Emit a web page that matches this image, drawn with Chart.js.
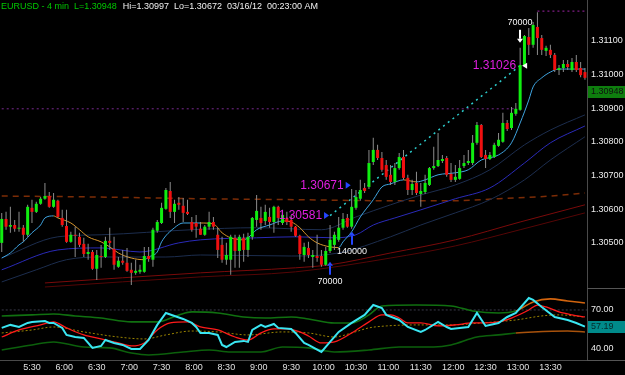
<!DOCTYPE html>
<html>
<head>
<meta charset="utf-8">
<script src="https://cdn.jsdelivr.net/npm/chart.js@4.4.1/dist/chart.umd.min.js"></script>
<style>
  html, body { margin: 0; padding: 0; background: #000; }
  #wrap { width: 625px; height: 375px; }
</style>
</head>
<body>
<div id="wrap"><canvas id="fxChart" width="625" height="375"></canvas></div>
<script>
// bar clock
const firstBar = '5:02';
const barMinutes = 4;
const timeTicks = ['5:30','6:00','6:30','7:00','7:30','8:00','8:30','9:00','9:30','10:00','10:30','11:00','11:30','12:00','12:30','13:00','13:30'];
const priceTicks = [1.305, 1.306, 1.307, 1.308, 1.309, 1.310, 1.311];
const oscTicks = [70, 40];

// candles, EURUSD 4 min
const openP = [
  1.30500,1.30571,1.30548,1.30553,1.30542,1.30545,1.30524,1.30604,1.30592,1.30616,
  1.30631,1.30639,1.30607,1.30625,1.30574,1.30550,1.30503,1.30524,1.30518,1.30497,
  1.30467,1.30473,1.30423,1.30461,1.30458,1.30506,1.30482,1.30429,1.30447,1.30441,
  1.30420,1.30411,1.30414,1.30414,1.30461,1.30450,1.30536,1.30559,1.30601,1.30654,
  1.30592,1.30619,1.30610,1.30592,1.30562,1.30559,1.30542,1.30524,1.30548,1.30562,
  1.30524,1.30494,1.30450,1.30450,1.30515,1.30476,1.30515,1.30479,1.30518,1.30568,
  1.30574,1.30565,1.30577,1.30562,1.30607,1.30559,1.30574,1.30568,1.30548,1.30521,
  1.30464,1.30485,1.30458,1.30461,1.30461,1.30435,1.30476,1.30494,1.30509,1.30545,
  1.30574,1.30548,1.30604,1.30631,1.30663,1.30666,1.30740,1.30776,1.30752,1.30731,
  1.30702,1.30681,1.30722,1.30755,1.30693,1.30657,1.30678,1.30645,1.30651,1.30672,
  1.30722,1.30728,1.30743,1.30752,1.30705,1.30687,1.30690,1.30728,1.30737,1.30737,
  1.30797,1.30850,1.30761,1.30749,1.30755,1.30788,1.30800,1.30856,1.30841,1.30883,
  1.30895,1.31028,1.31111,1.31088,1.31141,1.31108,1.31070,1.31073,1.31058,1.31013,
  1.31019,1.31031,1.31013,1.31037,1.31019,1.31007
];
const highP = [
  1.30589,1.30592,1.30607,1.30568,1.30592,1.30553,1.30613,1.30628,1.30622,1.30636,
  1.30678,1.30651,1.30648,1.30628,1.30598,1.30598,1.30533,1.30548,1.30530,1.30515,
  1.30497,1.30479,1.30479,1.30494,1.30518,1.30545,1.30518,1.30458,1.30479,1.30485,
  1.30441,1.30450,1.30435,1.30488,1.30488,1.30545,1.30568,1.30619,1.30663,1.30681,
  1.30628,1.30636,1.30633,1.30628,1.30577,1.30583,1.30562,1.30553,1.30592,1.30577,
  1.30545,1.30518,1.30500,1.30524,1.30524,1.30524,1.30527,1.30530,1.30577,1.30642,
  1.30607,1.30613,1.30604,1.30610,1.30610,1.30598,1.30592,1.30583,1.30550,1.30524,
  1.30500,1.30503,1.30479,1.30524,1.30479,1.30488,1.30553,1.30533,1.30577,1.30589,
  1.30586,1.30660,1.30657,1.30687,1.30678,1.30776,1.30812,1.30791,1.30770,1.30746,
  1.30731,1.30737,1.30767,1.30776,1.30702,1.30687,1.30711,1.30678,1.30702,1.30725,
  1.30785,1.30826,1.30761,1.30758,1.30737,1.30731,1.30746,1.30761,1.30776,1.30820,
  1.30859,1.30853,1.30776,1.30770,1.30797,1.30826,1.30886,1.30865,1.30903,1.30915,
  1.31079,1.31117,1.31138,1.31156,1.31185,1.31117,1.31085,1.31088,1.31064,1.31028,
  1.31043,1.31043,1.31049,1.31058,1.31037,1.31019
];
const lowP = [
  1.30473,1.30539,1.30530,1.30533,1.30533,1.30503,1.30518,1.30559,1.30589,1.30613,
  1.30628,1.30604,1.30604,1.30574,1.30548,1.30500,1.30500,1.30458,1.30488,1.30458,
  1.30450,1.30420,1.30390,1.30426,1.30455,1.30479,1.30420,1.30426,1.30435,1.30414,
  1.30375,1.30405,1.30408,1.30411,1.30444,1.30429,1.30530,1.30556,1.30598,1.30574,
  1.30559,1.30598,1.30562,1.30583,1.30533,1.30515,1.30524,1.30521,1.30539,1.30539,
  1.30455,1.30441,1.30435,1.30405,1.30426,1.30426,1.30444,1.30458,1.30509,1.30548,
  1.30539,1.30553,1.30545,1.30530,1.30553,1.30553,1.30553,1.30533,1.30518,1.30450,
  1.30444,1.30455,1.30426,1.30444,1.30429,1.30432,1.30470,1.30479,1.30503,1.30539,
  1.30545,1.30542,1.30598,1.30625,1.30648,1.30660,1.30731,1.30746,1.30711,1.30687,
  1.30672,1.30672,1.30717,1.30687,1.30642,1.30642,1.30642,1.30607,1.30645,1.30669,
  1.30717,1.30725,1.30737,1.30696,1.30681,1.30681,1.30687,1.30722,1.30731,1.30731,
  1.30791,1.30752,1.30722,1.30746,1.30752,1.30785,1.30797,1.30832,1.30835,1.30877,
  1.30892,1.31022,1.31058,1.31079,1.31058,1.31058,1.31055,1.31049,1.31007,1.30998,
  1.31007,1.31013,1.31007,1.31007,1.30992,1.30984
];
const closeP = [
  1.30571,1.30548,1.30553,1.30542,1.30545,1.30524,1.30607,1.30592,1.30616,1.30631,
  1.30639,1.30607,1.30628,1.30577,1.30553,1.30503,1.30524,1.30521,1.30494,1.30467,
  1.30473,1.30423,1.30464,1.30458,1.30506,1.30500,1.30435,1.30447,1.30441,1.30417,
  1.30411,1.30417,1.30420,1.30461,1.30452,1.30539,1.30562,1.30604,1.30657,1.30592,
  1.30616,1.30613,1.30589,1.30586,1.30539,1.30548,1.30524,1.30548,1.30562,1.30548,
  1.30479,1.30450,1.30464,1.30518,1.30476,1.30518,1.30479,1.30518,1.30574,1.30595,
  1.30559,1.30592,1.30562,1.30607,1.30574,1.30583,1.30562,1.30548,1.30521,1.30467,
  1.30488,1.30464,1.30464,1.30455,1.30435,1.30476,1.30509,1.30524,1.30545,1.30571,
  1.30548,1.30607,1.30636,1.30657,1.30654,1.30737,1.30776,1.30752,1.30717,1.30696,
  1.30681,1.30722,1.30755,1.30693,1.30657,1.30675,1.30648,1.30654,1.30678,1.30722,
  1.30728,1.30746,1.30749,1.30702,1.30687,1.30696,1.30722,1.30737,1.30743,1.30797,
  1.30850,1.30755,1.30749,1.30761,1.30791,1.30806,1.30856,1.30838,1.30886,1.30898,
  1.31028,1.31114,1.31088,1.31147,1.31108,1.31073,1.31079,1.31058,1.31013,1.31019,
  1.31031,1.31022,1.31037,1.31013,1.30998,1.30990
];

// moving averages on the price pane (bar index -> price)
const fastIdx = [0,2,4,5,7,9,10,12,13,16,18,20,23,25,27,30,33,34,36,37,40,42,44,46,49,51,53,56,57,59,62,65,67,69,71,73,76,78,79,81,83,86,88,90,93,96,98,101,105,108,111,115,118,120,122,123,125,127,129,132,135];
const fastVal = [1.30455,1.30470,1.30494,1.30503,1.30530,1.30553,1.30574,1.30580,1.30574,1.30559,1.30539,1.30518,1.30503,1.30488,1.30470,1.30455,1.30450,1.30458,1.30473,1.30503,1.30545,1.30559,1.30559,1.30559,1.30556,1.30530,1.30515,1.30509,1.30515,1.30539,1.30553,1.30565,1.30562,1.30545,1.30518,1.30500,1.30488,1.30486,1.30503,1.30533,1.30577,1.30628,1.30666,1.30675,1.30687,1.30681,1.30687,1.30702,1.30708,1.30717,1.30746,1.30761,1.30797,1.30856,1.30924,1.30963,1.30990,1.31007,1.31016,1.31016,1.31016];
const upperIdx = [0,13,23,44,59,74,82,90,97,105,113,121,127,135];
const upperVal = [1.30455,1.30518,1.30524,1.30539,1.30545,1.30539,1.30577,1.30613,1.30642,1.30672,1.30717,1.30791,1.30835,1.30880];
const midIdx = [0,13,23,32,41,46,59,68,77,82,86,91,97,105,113,121,127,135];
const midVal = [1.30420,1.30479,1.30485,1.30473,1.30500,1.30509,1.30515,1.30518,1.30515,1.30524,1.30553,1.30574,1.30598,1.30631,1.30663,1.30737,1.30797,1.30847];
const lowerIdx = [0,8,15,23,38,46,67,78,90,97,105,113,121,127,135];
const lowerVal = [1.30384,1.30420,1.30450,1.30458,1.30458,1.30464,1.30461,1.30470,1.30518,1.30553,1.30589,1.30628,1.30687,1.30746,1.30815];
const slowAIdx = [10,46,68,76,90,105,120,135];
const slowAVal = [1.30381,1.30411,1.30426,1.30435,1.30470,1.30509,1.30562,1.30613];
const slowBIdx = [10,46,68,90,105,120,135];
const slowBVal = [1.30369,1.30399,1.30414,1.30455,1.30491,1.30539,1.30589];
const dashIdx = [0,23,46,69,90,104,115,127,135];
const dashVal = [1.30639,1.30636,1.30631,1.30628,1.30625,1.30625,1.30631,1.30639,1.30648];

// level lines and trend line
const prevLevel = {from: 0, to: 119, price: 1.30898};
const highLevel = {from: 124, to: 135, price: 1.31188};
const trendLine = {from: 76, to: 120, p0: 1.30581, p1: 1.31026};

// oscillator pane
const rsiIdx = [0,2,4,6,7,10,11,12,14,15,17,19,20,21,23,24,26,28,30,32,34,36,38,40,42,44,45,46,48,50,51,52,54,56,57,58,60,61,63,64,67,68,70,71,74,76,78,81,84,86,88,89,92,94,97,98,101,103,104,108,110,112,115,117,119,122,123,125,128,131,133,135];
const rsiVal = [56.2,58.5,56.9,60,60.8,61.5,60,60,56.2,50.8,49.2,48.5,44.6,40.8,42.3,46.9,44.6,43.1,40,40,46.9,58.5,67.7,65.4,63.1,60,56.9,52.3,52.3,50.8,43.1,41.5,45.4,46.2,45.4,54.6,58.5,56.9,59.2,56.2,55.4,52.3,44.6,43.1,37.7,45.4,53.1,60,66.2,73.8,71.5,66.2,62.3,56.9,53.1,54.6,60.8,56.9,55.4,56.9,67.7,57.7,60,64.6,67.7,79.2,77.7,72.3,64.6,62.3,60,57.2];
const sigIdx = [0,4,9,12,15,19,23,27,30,33,36,39,43,46,50,54,57,60,63,66,69,71,74,77,81,85,88,90,92,94,97,101,105,109,112,115,118,122,124,126,129,132,135];
const sigVal = [49.2,54.6,58.5,60.8,56.2,50.8,47.7,44.6,42.3,44.6,54.6,60,60.8,56.9,54.6,49.2,46.9,52.3,55.4,55.4,53.1,50,44.6,45.4,52.3,60.8,66.2,66.2,63.8,60,60,57.7,58.5,60,60,60.8,63.8,70,73.8,72.3,68.5,66.2,64.6];
const oscMidIdx = [0,7,12,19,27,33,38,44,50,57,65,71,77,81,85,89,96,104,111,119,125,129,135];
const oscMidVal = [52.3,54.6,56.9,53.1,49.2,47.7,50.8,53.8,53.1,50.8,53.1,52.3,49.2,52.3,56.2,57.7,58.5,58.5,60,62.3,65.4,66.2,64.6];
const bandUpIdx = [0,7,12,17,23,30,36,41,44,50,56,61,67,71,77,81,85,88,96,104,109,115,119,123,127,131,135];
const bandUpVal = [65.4,66.2,66.9,65.4,63.8,60.8,60.8,66.2,68.5,67.7,64.6,63.8,64.6,63.1,60,60,66.2,73.1,73.8,73.1,69.2,67.7,69.2,76.2,78.5,76.9,75.4];
const bandLoIdx = [0,7,12,19,25,30,34,42,48,53,60,65,71,77,85,92,100,104,110,115,119,123,131,135];
const bandLoVal = [39.2,43.1,45.4,41.5,40.8,36.9,35.4,37.7,39.2,37.7,37.7,41.5,40.8,37.7,39.2,41.5,41.5,43.1,49.2,50.8,52.3,53.1,53.8,53.1];
const bandTurnBar = 119;
const oscLevel = 70;

// markers
const priceTags = [
  {bar: 76, price: 1.30581, text: '1.30581', after: false, mark: '#2646ff'},
  {bar: 81, price: 1.30671, text: '1.30671', after: false, mark: '#2646ff'},
  {bar: 120, price: 1.31026, text: '1.31026', after: true, mark: '#ffffff'}
];
const volumeTags = [
  {bar: 76, price: 1.30444, text: '70000', up: true, color: '#2646ff'},
  {bar: 81, price: 1.30533, text: '140000', up: true, color: '#2646ff'},
  {bar: 120, price: 1.31094, text: '70000', up: false, color: '#ffffff'}
];
const lastPrice = 1.30948;
const lastOsc = 57.19;
const titleLeft = 'EURUSD - 4 min  L=1.30948';
const titleRight = 'Hi=1.30997  Lo=1.30672  03/16/12  00:23:00 AM';

function toMin(s) {
  const [h, m] = s.split(':').map(Number);
  return h * 60 + m;
}
const t0 = toMin(firstBar);
const barTime = i => t0 + barMinutes * i;
const pts = (idx, val) => idx.map((b, k) => ({x: barTime(b), y: val[k]}));

const UP = '#10ee10', DOWN = '#f01010';
const bodies = openP.map((o, i) => ({x: barTime(i), y: [o, closeP[i]]}));
const bodyColors = openP.map((o, i) => closeP[i] >= o ? UP : DOWN);
const wicks = lowP.map((l, i) => ({x: barTime(i), y: [l, highP[i]]}));

function lineSet(data, color, extra) {
  return Object.assign({
    type: 'line', data: data, borderColor: color, borderWidth: 1,
    pointRadius: 0, cubicInterpolationMode: 'monotone', fill: false
  }, extra || {});
}

// no label padding: panes start at the very top
function fitAxis(width) {
  return a => { a.width = width; a.paddingTop = 0; a.paddingBottom = 0; };
}

const overlay = {
  id: 'overlay',
  afterDatasetsDraw(chart) {
    const {ctx, scales: {x, y}} = chart;
    ctx.save();
    // price tags
    ctx.font = '12px Arial, "Liberation Sans", sans-serif';
    ctx.textBaseline = 'middle';
    ctx.textAlign = 'right';
    priceTags.forEach(t => {
      const cx = x.getPixelForValue(barTime(t.bar));
      const cy = y.getPixelForValue(t.price);
      ctx.fillStyle = t.mark;
      ctx.beginPath();
      if (t.after) {
        ctx.moveTo(cx + 2, cy); ctx.lineTo(cx + 7, cy - 3); ctx.lineTo(cx + 7, cy + 3);
      } else {
        ctx.moveTo(cx - 1, cy); ctx.lineTo(cx - 6, cy - 3.5); ctx.lineTo(cx - 6, cy + 3.5);
      }
      ctx.closePath();
      ctx.fill();
      ctx.fillStyle = '#e01ee0';
      ctx.fillText(t.text, t.after ? cx - 4 : cx - 8, cy);
    });
    // volume arrows
    ctx.font = '9px Arial, "Liberation Sans", sans-serif';
    ctx.textAlign = 'center';
    volumeTags.forEach(t => {
      const cx = Math.round(x.getPixelForValue(barTime(t.bar)));
      const tip = y.getPixelForValue(t.price);
      const len = 13, head = 4, dir = t.up ? 1 : -1;
      ctx.fillStyle = t.color;
      ctx.beginPath();
      ctx.moveTo(cx, tip);
      ctx.lineTo(cx - 3, tip + dir * head);
      ctx.lineTo(cx + 3, tip + dir * head);
      ctx.closePath();
      ctx.fill();
      ctx.fillRect(cx - 1, t.up ? tip + head : tip - len, 2, len - head);
      ctx.fillStyle = '#f4f4f4';
      ctx.fillText(t.text, cx, t.up ? tip + len + 7 : tip - len - 7);
    });
    ctx.restore();
  },
  afterDraw(chart) {
    const {ctx, scales: {y, y2}, chartArea} = chart;
    const W = chart.width;
    ctx.save();
    ctx.font = '9px Arial, "Liberation Sans", sans-serif';
    ctx.textBaseline = 'middle';
    ctx.textAlign = 'left';
    ctx.fillStyle = '#00c800';
    ctx.fillText(titleLeft, 1, 7);
    const w = ctx.measureText(titleLeft).width;
    ctx.fillStyle = '#f0f0f0';
    ctx.fillText(titleRight, 1 + w + 6, 7);
    // pane separators in the axis strip
    ctx.strokeStyle = '#555';
    ctx.lineWidth = 1;
    ctx.beginPath();
    ctx.moveTo(chartArea.right, y.bottom + 0.5); ctx.lineTo(W, y.bottom + 0.5);
    ctx.moveTo(chartArea.right, chartArea.bottom + 0.5); ctx.lineTo(W, chartArea.bottom + 0.5);
    ctx.stroke();
    // last value boxes
    const boxes = [
      {v: y.getPixelForValue(lastPrice), text: lastPrice.toFixed(5), bg: '#0e7e0e', fg: '#101010'},
      {v: y2.getPixelForValue(lastOsc), text: lastOsc.toFixed(2), bg: '#008a8a', fg: '#062a2a'}
    ];
    boxes.forEach(b => {
      ctx.fillStyle = b.bg;
      ctx.fillRect(chartArea.right + 1, Math.round(b.v) - 6, W - chartArea.right - 1, 12);
      ctx.fillStyle = b.fg;
      ctx.fillText(b.text, chartArea.right + 4, Math.round(b.v));
    });
    ctx.restore();
  }
};

const datasets = [
  {type: 'bar', data: bodies, backgroundColor: bodyColors, barThickness: 3, minBarLength: 1,
   grouped: false, inflateAmount: 0, borderWidth: 0, order: 0},
  {type: 'bar', data: wicks, backgroundColor: '#8c8c8c', barThickness: 1, grouped: false,
   inflateAmount: 0, borderWidth: 0, order: 1},
  lineSet(pts(fastIdx, fastVal), '#3fa4e0', {order: 2, segment: {
    borderColor: c => c.p1.parsed.y < c.p0.parsed.y ? '#d8962c' : '#3fa4e0'}}),
  lineSet(pts(upperIdx, upperVal), '#1c2d4e', {order: 3}),
  lineSet(pts(midIdx, midVal), '#2a2ab8', {order: 3}),
  lineSet(pts(lowerIdx, lowerVal), '#1c2d4e', {order: 3}),
  lineSet(pts(slowAIdx, slowAVal), '#7a0a0a', {order: 3}),
  lineSet(pts(slowBIdx, slowBVal), '#560606', {order: 3}),
  lineSet(pts(dashIdx, dashVal), '#7c2c06', {order: 3, borderWidth: 1.5, borderDash: [6, 5]}),
  lineSet([{x: barTime(prevLevel.from), y: prevLevel.price}, {x: barTime(prevLevel.to), y: prevLevel.price}],
    '#7a2a90', {order: 3, borderDash: [2, 3]}),
  lineSet([{x: barTime(highLevel.from), y: highLevel.price}, {x: barTime(highLevel.to), y: highLevel.price}],
    '#a024a8', {order: 3, borderDash: [2, 3]}),
  lineSet([{x: barTime(trendLine.from), y: trendLine.p0}, {x: barTime(trendLine.to), y: trendLine.p1}],
    '#2ccccc', {order: 3, borderWidth: 1.5, borderDash: [2, 4]}),
  // oscillator
  lineSet([{x: barTime(0), y: oscLevel}, {x: barTime(openP.length + 2), y: oscLevel}],
    '#3a3a4a', {yAxisID: 'y2', order: 9, borderDash: [2, 2]}),
  lineSet(pts(bandUpIdx, bandUpVal), '#107010', {yAxisID: 'y2', order: 8, borderWidth: 1.6, segment: {
    borderColor: c => c.p0.parsed.x >= barTime(bandTurnBar) ? '#d2640e' : '#107010'}}),
  lineSet(pts(bandLoIdx, bandLoVal), '#0c600c', {yAxisID: 'y2', order: 8, borderWidth: 1.6, segment: {
    borderColor: c => c.p0.parsed.x >= barTime(bandTurnBar) ? '#a8520c' : '#0c600c'}}),
  lineSet(pts(oscMidIdx, oscMidVal), '#9a8400', {yAxisID: 'y2', order: 7, borderDash: [2, 2]}),
  lineSet(pts(sigIdx, sigVal), '#ff1a1a', {yAxisID: 'y2', order: 6, borderWidth: 1.3}),
  lineSet(pts(rsiIdx, rsiVal), '#3ae6f2', {yAxisID: 'y2', order: 5, borderWidth: 2, cubicInterpolationMode: 'default', tension: 0})
];

const axisFont = {family: 'Arial, "Liberation Sans", sans-serif', size: 9};

new Chart(document.getElementById('fxChart'), {
  type: 'line',
  data: {datasets: datasets},
  options: {
    responsive: false,
    devicePixelRatio: 1,
    animation: false,
    events: [],
    layout: {padding: 0, autoPadding: false},
    plugins: {legend: {display: false}, tooltip: {enabled: false}},
    scales: {
      x: {
        type: 'linear', min: 300.4, max: 843.9, offset: false,
        grid: {display: false, drawTicks: false},
        border: {display: true, color: '#4a4a4a', dash: [2, 2]},
        afterBuildTicks: a => { a.ticks = timeTicks.map(t => ({value: toMin(t)})); },
        afterFit: a => { a.height = 15; a.paddingLeft = 0; a.paddingRight = 0; },
        ticks: {
          color: '#e0e0e0', font: axisFont, padding: 2, maxRotation: 0, autoSkip: false,
          callback: v => Math.floor(v / 60) + ':' + String(v % 60).padStart(2, '0')
        }
      },
      y: {
        type: 'linear', position: 'right', stack: 'panes', stackWeight: 288,
        min: 1.30366, max: 1.31221,
        grid: {display: false, drawTicks: false},
        border: {display: true, color: '#4a4a4a', width: 1},
        afterBuildTicks: a => { a.ticks = priceTicks.map(v => ({value: v})); },
        afterFit: fitAxis(38),
        ticks: {color: '#ececec', font: axisFont, padding: 4, callback: v => v.toFixed(5)}
      },
      y2: {
        type: 'linear', position: 'right', stack: 'panes', stackWeight: 72,
        min: 31.5, max: 86.9,
        grid: {display: false, drawTicks: false},
        border: {display: true, color: '#4a4a4a', width: 1},
        afterBuildTicks: a => { a.ticks = oscTicks.map(v => ({value: v})); },
        afterFit: fitAxis(38),
        ticks: {color: '#ececec', font: axisFont, padding: 4, callback: v => v.toFixed(2)}
      }
    }
  },
  plugins: [overlay]
});
</script>
</body>
</html>
